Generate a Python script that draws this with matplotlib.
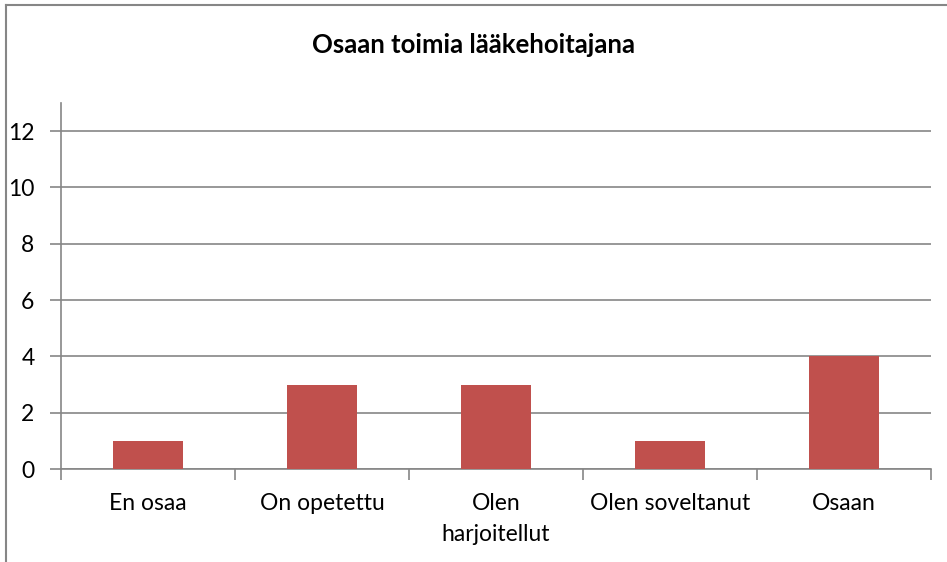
import matplotlib.pyplot as plt
from matplotlib.lines import Line2D

categories = ["En osaa", "On opetettu", "Olen\nharjoitellut", "Olen soveltanut", "Osaan"]
values = [1, 3, 3, 1, 4]
yticks = [0, 2, 4, 6, 8, 10, 12]

grey = "#868686"
plt.rcParams['font.family'] = ['Lato', 'DejaVu Sans']

W, H = 947, 562
fig = plt.figure(figsize=(W / 100, H / 100), dpi=100)
ax = fig.add_axes([61 / W, 1 - 469 / H, (931 - 61) / W, (469 - 103) / H])

x = list(range(len(categories)))
ax.bar(x, values, width=0.4, color="#C0504D", zorder=3)

ax.set_xlim(-0.5, len(categories) - 0.5)
ax.set_ylim(0, 13)
ax.set_yticks(yticks)
ax.set_yticklabels([str(v) for v in yticks], fontsize=16.5)
ax.yaxis.grid(True, color=grey, linewidth=1.2, zorder=0)

ax.set_xticks(x)
ax.set_xticklabels(categories, fontsize=16.5, linespacing=1.6)
ax.tick_params(axis="x", length=0, pad=17)
ax.set_xticks([i - 0.5 for i in range(len(categories) + 1)], minor=True)
ax.tick_params(axis="x", which="minor", length=8, width=1.2, color=grey, direction="out")
ax.tick_params(axis="y", length=8, width=1.2, color=grey, direction="out", pad=11)

for s in ["top", "right"]:
    ax.spines[s].set_visible(False)
for s in ["left", "bottom"]:
    ax.spines[s].set_color(grey)
    ax.spines[s].set_linewidth(1.2)

fig.text(0.5, 1 - 45 / H, "Osaan toimia lääkehoitajana", fontsize=18.5,
         fontweight="bold", ha="center", va="center")

# chart border (left and top)
fig.add_artist(Line2D([5.5 / W, 5.5 / W], [0, 1 - 4.5 / H], color=grey, linewidth=1.5))
fig.add_artist(Line2D([5.5 / W, 1], [1 - 4.5 / H, 1 - 4.5 / H], color=grey, linewidth=1.5))

fig.savefig("out.png", dpi=100)
